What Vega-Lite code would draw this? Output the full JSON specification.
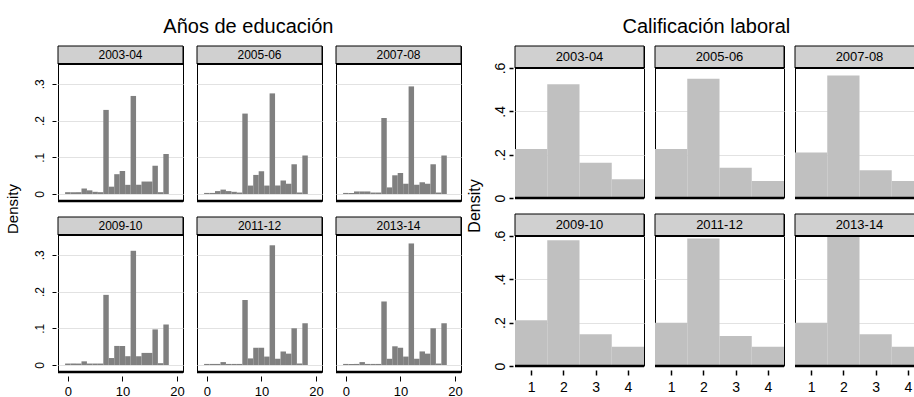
{
  "$schema": "https://vega.github.io/schema/vega-lite/v6.json",
  "background": "white",
  "padding": {"left": 6, "top": 17, "right": 0, "bottom": 0},
  "spacing": 4,
  "config": {
    "font": "Liberation Sans",
    "view": {"stroke": "black", "strokeWidth": 1},
    "title": {"fontSize": 20, "fontWeight": "normal", "color": "black", "font": "Liberation Sans"},
    "header": {"titleFontWeight": "normal", "titleColor": "black", "titleFont": "Liberation Sans"}
  },
  "datasets": {
    "edu": [
      {"p":"2003-04","x":0,"d":0.005},{"p":"2003-04","x":1,"d":0.005},{"p":"2003-04","x":2,"d":0.005},{"p":"2003-04","x":3,"d":0.015},{"p":"2003-04","x":4,"d":0.01},{"p":"2003-04","x":5,"d":0.006},{"p":"2003-04","x":6,"d":0.005},{"p":"2003-04","x":7,"d":0.229},{"p":"2003-04","x":8,"d":0.02},{"p":"2003-04","x":9,"d":0.054},{"p":"2003-04","x":10,"d":0.063},{"p":"2003-04","x":11,"d":0.025},{"p":"2003-04","x":12,"d":0.267},{"p":"2003-04","x":13,"d":0.025},{"p":"2003-04","x":14,"d":0.034},{"p":"2003-04","x":15,"d":0.034},{"p":"2003-04","x":16,"d":0.077},{"p":"2003-04","x":17,"d":0.005},{"p":"2003-04","x":18,"d":0.109},
      {"p":"2005-06","x":0,"d":0.003},{"p":"2005-06","x":1,"d":0.003},{"p":"2005-06","x":2,"d":0.008},{"p":"2005-06","x":3,"d":0.012},{"p":"2005-06","x":4,"d":0.008},{"p":"2005-06","x":5,"d":0.006},{"p":"2005-06","x":6,"d":0.004},{"p":"2005-06","x":7,"d":0.219},{"p":"2005-06","x":8,"d":0.023},{"p":"2005-06","x":9,"d":0.052},{"p":"2005-06","x":10,"d":0.062},{"p":"2005-06","x":11,"d":0.023},{"p":"2005-06","x":12,"d":0.274},{"p":"2005-06","x":13,"d":0.023},{"p":"2005-06","x":14,"d":0.037},{"p":"2005-06","x":15,"d":0.028},{"p":"2005-06","x":16,"d":0.081},{"p":"2005-06","x":17,"d":0.004},{"p":"2005-06","x":18,"d":0.105},
      {"p":"2007-08","x":0,"d":0.003},{"p":"2007-08","x":1,"d":0.003},{"p":"2007-08","x":2,"d":0.007},{"p":"2007-08","x":3,"d":0.007},{"p":"2007-08","x":4,"d":0.007},{"p":"2007-08","x":5,"d":0.004},{"p":"2007-08","x":6,"d":0.004},{"p":"2007-08","x":7,"d":0.207},{"p":"2007-08","x":8,"d":0.018},{"p":"2007-08","x":9,"d":0.051},{"p":"2007-08","x":10,"d":0.057},{"p":"2007-08","x":11,"d":0.028},{"p":"2007-08","x":12,"d":0.293},{"p":"2007-08","x":13,"d":0.025},{"p":"2007-08","x":14,"d":0.032},{"p":"2007-08","x":15,"d":0.028},{"p":"2007-08","x":16,"d":0.081},{"p":"2007-08","x":17,"d":0.004},{"p":"2007-08","x":18,"d":0.105},
      {"p":"2009-10","x":0,"d":0.004},{"p":"2009-10","x":1,"d":0.004},{"p":"2009-10","x":2,"d":0.004},{"p":"2009-10","x":3,"d":0.01},{"p":"2009-10","x":4,"d":0.004},{"p":"2009-10","x":5,"d":0.004},{"p":"2009-10","x":6,"d":0.004},{"p":"2009-10","x":7,"d":0.191},{"p":"2009-10","x":8,"d":0.019},{"p":"2009-10","x":9,"d":0.052},{"p":"2009-10","x":10,"d":0.052},{"p":"2009-10","x":11,"d":0.024},{"p":"2009-10","x":12,"d":0.311},{"p":"2009-10","x":13,"d":0.024},{"p":"2009-10","x":14,"d":0.033},{"p":"2009-10","x":15,"d":0.033},{"p":"2009-10","x":16,"d":0.097},{"p":"2009-10","x":17,"d":0.005},{"p":"2009-10","x":18,"d":0.11},
      {"p":"2011-12","x":0,"d":0.003},{"p":"2011-12","x":1,"d":0.003},{"p":"2011-12","x":2,"d":0.003},{"p":"2011-12","x":3,"d":0.008},{"p":"2011-12","x":4,"d":0.003},{"p":"2011-12","x":5,"d":0.003},{"p":"2011-12","x":6,"d":0.003},{"p":"2011-12","x":7,"d":0.177},{"p":"2011-12","x":8,"d":0.018},{"p":"2011-12","x":9,"d":0.047},{"p":"2011-12","x":10,"d":0.047},{"p":"2011-12","x":11,"d":0.023},{"p":"2011-12","x":12,"d":0.326},{"p":"2011-12","x":13,"d":0.017},{"p":"2011-12","x":14,"d":0.037},{"p":"2011-12","x":15,"d":0.031},{"p":"2011-12","x":16,"d":0.1},{"p":"2011-12","x":17,"d":0.004},{"p":"2011-12","x":18,"d":0.114},
      {"p":"2013-14","x":0,"d":0.003},{"p":"2013-14","x":1,"d":0.003},{"p":"2013-14","x":2,"d":0.003},{"p":"2013-14","x":3,"d":0.008},{"p":"2013-14","x":4,"d":0.003},{"p":"2013-14","x":5,"d":0.003},{"p":"2013-14","x":6,"d":0.003},{"p":"2013-14","x":7,"d":0.173},{"p":"2013-14","x":8,"d":0.017},{"p":"2013-14","x":9,"d":0.051},{"p":"2013-14","x":10,"d":0.047},{"p":"2013-14","x":11,"d":0.023},{"p":"2013-14","x":12,"d":0.331},{"p":"2013-14","x":13,"d":0.017},{"p":"2013-14","x":14,"d":0.037},{"p":"2013-14","x":15,"d":0.031},{"p":"2013-14","x":16,"d":0.1},{"p":"2013-14","x":17,"d":0.004},{"p":"2013-14","x":18,"d":0.114}
    ],
    "cal": [
      {"p":"2003-04","x":1,"d":0.226},{"p":"2003-04","x":2,"d":0.525},{"p":"2003-04","x":3,"d":0.163},{"p":"2003-04","x":4,"d":0.086},
      {"p":"2005-06","x":1,"d":0.226},{"p":"2005-06","x":2,"d":0.55},{"p":"2005-06","x":3,"d":0.14},{"p":"2005-06","x":4,"d":0.078},
      {"p":"2007-08","x":1,"d":0.21},{"p":"2007-08","x":2,"d":0.565},{"p":"2007-08","x":3,"d":0.128},{"p":"2007-08","x":4,"d":0.078},
      {"p":"2009-10","x":1,"d":0.211},{"p":"2009-10","x":2,"d":0.58},{"p":"2009-10","x":3,"d":0.146},{"p":"2009-10","x":4,"d":0.089},
      {"p":"2011-12","x":1,"d":0.2},{"p":"2011-12","x":2,"d":0.588},{"p":"2011-12","x":3,"d":0.138},{"p":"2011-12","x":4,"d":0.089},
      {"p":"2013-14","x":1,"d":0.2},{"p":"2013-14","x":2,"d":0.597},{"p":"2013-14","x":3,"d":0.146},{"p":"2013-14","x":4,"d":0.089}
    ]
  },
  "hconcat": [
    {
      "data": {"name": "edu"},
      "title": {"text": "Años de educación", "anchor": "middle", "offset": 8, "dx": 14},
      "transform": [
        {"calculate": "indexof(['2003-04','2005-06','2007-08'], datum.p) >= 0 ? 1 : 2", "as": "r"},
        {"calculate": "(datum.p == '2003-04' || datum.p == '2009-10') ? 1 : ((datum.p == '2005-06' || datum.p == '2011-12') ? 2 : 3)", "as": "c"},
        {"calculate": "datum.x - 0.5", "as": "x0"},
        {"calculate": "datum.x + 0.5", "as": "x1"}
      ],
      "facet": {
        "row": {"field": "r", "type": "ordinal", "header": {"title": "Density", "labels": false, "titleFontSize": 15, "titlePadding": 2}},
        "column": {"field": "c", "type": "ordinal", "header": {"title": null, "labels": false}}
      },
      "spacing": {"row": 13, "column": 10},
      "spec": {
        "width": 125,
        "height": 155,
        "layer": [
          {
            "mark": {"type": "rect", "color": "#808080"},
            "encoding": {
              "x": {"field": "x0", "type": "quantitative", "scale": {"domain": [-1.8, 21.1], "nice": false, "zero": false},
                    "axis": {"title": null, "values": [0, 5, 10, 15, 20], "labelAngle": 0, "domain": false, "grid": false, "tickColor": "black", "tickSize": 5, "tickWidth": 1, "offset": 2, "labelFontSize": 13, "labelColor": "black", "labelPadding": 4}},
              "x2": {"field": "x1"},
              "y": {"field": "d", "type": "quantitative", "scale": {"domain": [-0.019, 0.403], "nice": false, "zero": false},
                    "axis": {"title": null, "values": [0, 0.1, 0.2, 0.3], "labelExpr": "datum.value == 0 ? '0' : substring(format(datum.value, '.1f'), 1)", "labelAngle": -90, "grid": true, "gridColor": "#e2e2e2", "gridWidth": 1.2, "domain": false, "tickColor": "black", "tickSize": 4, "labelFontSize": 12, "labelColor": "black", "labelPadding": 6}},
              "y2": {"datum": 0}
            }
          },
          {
            "transform": [{"filter": "datum.x == 0"}],
            "mark": {"type": "rect", "color": "#d0d0d0", "stroke": "black", "strokeWidth": 1},
            "encoding": {"x": {"datum": -1.8}, "x2": {"datum": 21.1}, "y": {"datum": 0.354}, "y2": {"datum": 0.403}}
          },
          {
            "transform": [{"filter": "datum.x == 0"}],
            "mark": {"type": "rule", "color": "black", "strokeWidth": 2},
            "encoding": {"y": {"datum": 0.354}}
          },
          {
            "transform": [{"filter": "datum.x == 0"}],
            "mark": {"type": "rule", "color": "black", "strokeWidth": 2.5},
            "encoding": {"y": {"datum": -0.019}}
          },
          {
            "transform": [{"filter": "datum.x == 0"}],
            "mark": {"type": "text", "fontSize": 12, "color": "black", "baseline": "middle", "font": "Liberation Sans"},
            "encoding": {"text": {"field": "p"}, "x": {"datum": 9.65}, "y": {"datum": 0.3785}}
          }
        ]
      }
    },
    {
      "data": {"name": "cal"},
      "title": {"text": "Calificación laboral", "anchor": "middle", "offset": 8, "dx": 10},
      "transform": [
        {"calculate": "indexof(['2003-04','2005-06','2007-08'], datum.p) >= 0 ? 1 : 2", "as": "r"},
        {"calculate": "(datum.p == '2003-04' || datum.p == '2009-10') ? 1 : ((datum.p == '2005-06' || datum.p == '2011-12') ? 2 : 3)", "as": "c"},
        {"calculate": "datum.x - 0.5", "as": "x0"},
        {"calculate": "datum.x + 0.5", "as": "x1"}
      ],
      "facet": {
        "row": {"field": "r", "type": "ordinal", "header": {"title": "Density", "labels": false, "titleFontSize": 16, "titlePadding": 0}},
        "column": {"field": "c", "type": "ordinal", "header": {"title": null, "labels": false}}
      },
      "spacing": {"row": 13, "column": 7},
      "spec": {
        "width": 129,
        "height": 152,
        "layer": [
          {
            "mark": {"type": "rect", "color": "#c0c0c0"},
            "encoding": {
              "x": {"field": "x0", "type": "quantitative", "scale": {"domain": [0.5, 4.5], "nice": false, "zero": false},
                    "axis": {"title": null, "values": [1, 2, 3, 4], "labelAngle": 0, "domain": false, "grid": false, "tickColor": "black", "tickSize": 5, "tickWidth": 1.5, "offset": 2, "labelFontSize": 14, "labelColor": "black", "labelPadding": 5}},
              "x2": {"field": "x1"},
              "y": {"field": "d", "type": "quantitative", "scale": {"domain": [0, 0.7015], "nice": false, "zero": false},
                    "axis": {"title": null, "values": [0, 0.2, 0.4, 0.6], "labelExpr": "datum.value == 0 ? '0' : substring(format(datum.value, '.1f'), 1)", "labelAngle": -90, "grid": true, "gridColor": "#e2e2e2", "gridWidth": 1.2, "domain": false, "tickColor": "black", "tickSize": 4, "tickWidth": 1.5, "labelFontSize": 14, "labelColor": "black", "labelPadding": 2}},
              "y2": {"datum": 0}
            }
          },
          {
            "transform": [{"filter": "datum.x == 1"}],
            "mark": {"type": "rect", "color": "#d0d0d0", "stroke": "black", "strokeWidth": 1},
            "encoding": {"x": {"datum": 0.5}, "x2": {"datum": 4.5}, "y": {"datum": 0.6}, "y2": {"datum": 0.7015}}
          },
          {
            "transform": [{"filter": "datum.x == 1"}],
            "mark": {"type": "rule", "color": "black", "strokeWidth": 2},
            "encoding": {"y": {"datum": 0.6}}
          },
          {
            "transform": [{"filter": "datum.x == 1"}],
            "mark": {"type": "rule", "color": "black", "strokeWidth": 2.5},
            "encoding": {"y": {"datum": 0}}
          },
          {
            "transform": [{"filter": "datum.x == 1"}],
            "mark": {"type": "text", "fontSize": 13, "color": "black", "baseline": "middle", "font": "Liberation Sans"},
            "encoding": {"text": {"field": "p"}, "x": {"datum": 2.5}, "y": {"datum": 0.6508}}
          }
        ]
      }
    }
  ]
}
